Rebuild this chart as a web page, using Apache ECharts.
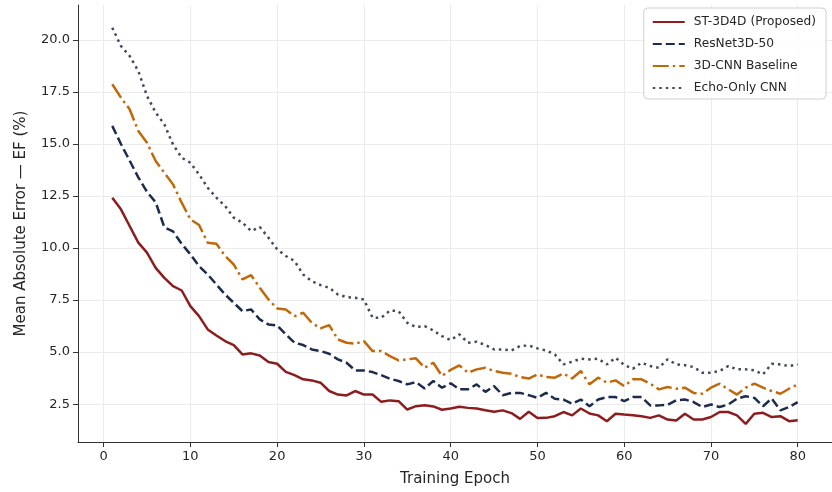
<!DOCTYPE html>
<html>
<head>
<meta charset="utf-8">
<script src="https://cdn.jsdelivr.net/npm/echarts@6/dist/echarts.min.js"></script>
<style>
  html, body { margin: 0; padding: 0; background: #fff; }
  #chart { width: 832px; height: 492px; }
</style>
</head>
<body>
<div id="chart"></div>
<script>
const epochs = [1, 2, 3, 4, 5, 6, 7, 8, 9, 10, 11, 12, 13, 14, 15, 16, 17, 18, 19, 20,
  21, 22, 23, 24, 25, 26, 27, 28, 29, 30, 31, 32, 33, 34, 35, 36, 37, 38, 39, 40,
  41, 42, 43, 44, 45, 46, 47, 48, 49, 50, 51, 52, 53, 54, 55, 56, 57, 58, 59, 60,
  61, 62, 63, 64, 65, 66, 67, 68, 69, 70, 71, 72, 73, 74, 75, 76, 77, 78, 79, 80]

const st3d4d = [12.42, 11.86, 11.06, 10.26, 9.78, 9.05, 8.57, 8.17, 7.96, 7.21,
  6.73, 6.09, 5.80, 5.53, 5.34, 4.89, 4.94, 4.84, 4.52, 4.44,
  4.05, 3.89, 3.69, 3.64, 3.53, 3.13, 2.96, 2.92, 3.13, 2.96,
  2.96, 2.61, 2.68, 2.64, 2.24, 2.40, 2.45, 2.39, 2.23, 2.29,
  2.37, 2.32, 2.29, 2.21, 2.13, 2.20, 2.07, 1.79, 2.13, 1.83,
  1.84, 1.92, 2.12, 1.96, 2.29, 2.05, 1.96, 1.68, 2.04, 2.00,
  1.97, 1.92, 1.84, 1.96, 1.76, 1.71, 2.04, 1.76, 1.76, 1.88,
  2.12, 2.12, 1.96, 1.55, 2.04, 2.08, 1.88, 1.92, 1.68, 1.73]

const resnet3d = [15.87, 15.0, 14.2, 13.4, 12.7, 12.2, 11.0, 10.8, 10.2, 9.7,
  9.13, 8.73, 8.25, 7.77, 7.37, 6.97, 7.05, 6.57, 6.33, 6.28,
  5.85, 5.45, 5.34, 5.13, 5.05, 4.92, 4.65, 4.49, 4.12, 4.12,
  4.04, 3.89, 3.72, 3.61, 3.45, 3.56, 3.25, 3.61, 3.29, 3.50,
  3.21, 3.21, 3.45, 3.09, 3.37, 2.93, 3.04, 3.04, 2.93, 2.80,
  3.04, 2.76, 2.72, 2.52, 2.72, 2.40, 2.72, 2.84, 2.84, 2.64,
  2.84, 2.84, 2.44, 2.44, 2.46, 2.69, 2.72, 2.60, 2.36, 2.48,
  2.36, 2.48, 2.76, 2.88, 2.80, 2.40, 2.77, 2.20, 2.36, 2.60]

const cnn3d = [17.87, 17.23, 16.67, 15.63, 15.06, 14.18, 13.62, 13.06, 12.18, 11.38,
  11.11, 10.26, 10.21, 9.62, 9.21, 8.49, 8.70, 8.09, 7.53, 7.10,
  7.05, 6.73, 6.89, 6.41, 6.14, 6.30, 5.61, 5.45, 5.40, 5.53,
  5.05, 5.05, 4.81, 4.60, 4.65, 4.70, 4.25, 4.49, 3.85, 4.15,
  4.36, 4.01, 4.17, 4.25, 4.09, 4.01, 3.96, 3.80, 3.73, 3.93,
  3.80, 3.77, 3.97, 3.73, 4.09, 3.45, 3.77, 3.53, 3.64, 3.37,
  3.69, 3.69, 3.48, 3.21, 3.32, 3.24, 3.29, 3.04, 3.00, 3.29,
  3.48, 3.21, 2.96, 3.29, 3.48, 3.29, 3.13, 3.00, 3.24, 3.45]

const echoOnly = [20.59, 19.71, 19.23, 18.51, 17.31, 16.51, 15.95, 14.98, 14.34, 14.10,
  13.54, 12.90, 12.42, 12.02, 11.46, 11.22, 10.82, 11.01, 10.50, 9.94,
  9.62, 9.38, 8.73, 8.41, 8.22, 8.09, 7.77, 7.64, 7.61, 7.53,
  6.65, 6.65, 7.00, 6.97, 6.41, 6.20, 6.25, 6.04, 5.77, 5.58,
  5.85, 5.45, 5.50, 5.34, 5.13, 5.13, 5.08, 5.29, 5.32, 5.18,
  5.08, 4.89, 4.41, 4.54, 4.68, 4.65, 4.68, 4.41, 4.73, 4.38,
  4.20, 4.49, 4.33, 4.25, 4.65, 4.41, 4.37, 4.28, 4.01, 4.01,
  4.09, 4.33, 4.17, 4.17, 4.12, 3.93, 4.44, 4.41, 4.33, 4.41]

const xTicks = [0, 10, 20, 30, 40, 50, 60, 70, 80]
const yTicks = [2.5, 5.0, 7.5, 10.0, 12.5, 15.0, 17.5, 20.0]

const fontFamily = 'DejaVu Sans'
const textColor = '#262626'
const gridColor = '#ebebeb'

// 每条曲线的名称、颜色和线型
const seriesDefs = [
  { name: 'ST-3D4D (Proposed)', data: st3d4d, color: '#8b1d1f', type: 'solid' },
  { name: 'ResNet3D-50', data: resnet3d, color: '#1d2b4c', type: [9, 4] },
  { name: '3D-CNN Baseline', data: cnn3d, color: '#c0690a', type: [16, 4, 2.5, 4] },
  { name: 'Echo-Only CNN', data: echoOnly, color: '#3f4a5c', type: [2.5, 4] }
]

const myChart = echarts.init(document.getElementById('chart'), null, { renderer: 'canvas' })

myChart.setOption({
  animation: false,
  backgroundColor: '#fff',
  textStyle: { fontFamily: fontFamily },
  grid: { left: 78, right: -7, top: 5, bottom: 50, containLabel: false },
  legend: {
    orient: 'vertical',
    right: 6,
    top: 8,
    itemWidth: 32,
    itemHeight: 12,
    itemGap: 10,
    padding: [8, 10, 5, 8],
    backgroundColor: 'rgba(255,255,255,0.85)',
    borderColor: '#d0d0d0',
    borderWidth: 1,
    borderRadius: 4,
    // 图例只显示线段，不显示圆点
    itemStyle: { opacity: 0 },
    textStyle: { fontFamily: fontFamily, fontSize: 12.2, color: textColor, padding: [0, 0, 0, 4] },
    data: seriesDefs.map(s => s.name)
  },
  xAxis: {
    type: 'value',
    min: -2.95,
    max: 83.95,
    name: 'Training Epoch',
    nameLocation: 'middle',
    nameGap: 30,
    nameTextStyle: { fontFamily: fontFamily, fontSize: 15, color: textColor },
    axisLine: { show: true, onZero: false, lineStyle: { color: '#333', width: 1 } },
    axisTick: { show: true, length: 5, customValues: xTicks, lineStyle: { color: '#333' } },
    axisLabel: { customValues: xTicks, fontSize: 13, color: textColor, margin: 8 },
    splitLine: { show: true, lineStyle: { color: gridColor, width: 1 } }
  },
  yAxis: {
    type: 'value',
    min: 0.68,
    max: 21.68,
    name: 'Mean Absolute Error — EF (%)',
    nameLocation: 'middle',
    nameGap: 49,
    nameTextStyle: { fontFamily: fontFamily, fontSize: 15, color: textColor },
    axisLine: { show: true, onZero: false, lineStyle: { color: '#333', width: 1 } },
    axisTick: { show: true, length: 5, customValues: yTicks, lineStyle: { color: '#333' } },
    axisLabel: {
      customValues: yTicks,
      fontSize: 13,
      color: textColor,
      margin: 8,
      formatter: value => value.toFixed(1)
    },
    splitLine: { show: true, lineStyle: { color: gridColor, width: 1 } }
  },
  series: seriesDefs.map(s => ({
    name: s.name,
    type: 'line',
    showSymbol: false,
    symbol: 'none',
    color: s.color,
    lineStyle: { color: s.color, width: 2.5, type: s.type, cap: 'butt' },
    data: epochs.map((e, i) => [e, s.data[i]])
  }))
})
</script>
</body>
</html>
